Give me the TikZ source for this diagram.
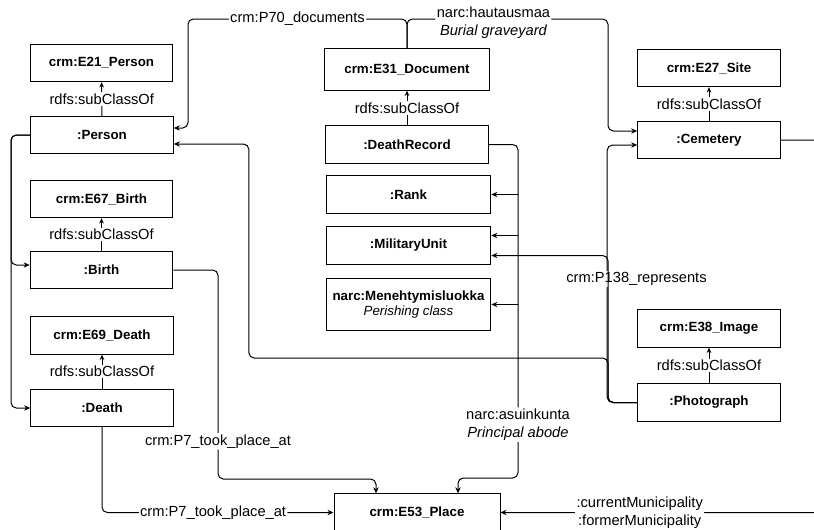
\documentclass[tikz,border=0pt]{standalone}
\usepackage{fontspec}
\setmainfont{Liberation Sans}
\usepackage{tikz}
\usetikzlibrary{arrows.meta}
\usetikzlibrary{positioning}
\usetikzlibrary{calc}

\tikzstyle{cls} = [draw, line width=0.75pt, minimum width=107pt, minimum height=28pt, inner sep=2pt, align=center, font=\bfseries\fontsize{10}{12}\selectfont]
\tikzstyle{widecls} = [cls, minimum width=123.5pt]
\tikzstyle{link} = [line width=0.75pt, rounded corners=4pt, -{Stealth[length=4.5pt,width=4pt]}]
\tikzstyle{subcls} = [line width=0.75pt, -{Stealth[length=4pt,width=3.5pt]}]
\tikzstyle{lbl} = [fill=white, inner sep=1pt, align=center, font=\fontsize{11}{13.5}\selectfont]

\begin{document}
\begin{tikzpicture}[x=0.75pt, y=-0.75pt]
    \useasboundingbox (0,0) rectangle (814,529);
    \clip (0,0) rectangle (814,529);

    % left column
    \node[cls] (e21) at (101.5,63) {crm:E21\_Person};
    \node[cls] (person) at (102,135) {:Person};
    \node[cls] (e67) at (101.5,199) {crm:E67\_Birth};
    \node[cls] (birth) at (101.5,270) {:Birth};
    \node[cls] (e69) at (102,335.5) {crm:E69\_Death};
    \node[cls] (death) at (102,408) {:Death};

    % middle column
    \node[widecls, minimum height=31pt] (e31) at (407,69.5) {crm:E31\_Document};
    \node[widecls, minimum width=122pt] (record) at (407,144.5) {:DeathRecord};
    \node[widecls] (rank) at (408.5,194.5) {:Rank};
    \node[widecls] (unit) at (408.5,245.5) {:MilitaryUnit};
    \node[widecls, minimum height=39pt] (perish) at (408.5,304.5) {narc:Menehtymisluokka\\[-1pt]\mdseries\itshape Perishing class};
    \node[widecls, minimum width=124.5pt] (place) at (417,512.5) {crm:E53\_Place};

    % right column
    \node[cls] (e27) at (709,68) {crm:E27\_Site};
    \node[cls] (cemetery) at (709,140) {:Cemetery};
    \node[cls] (e38) at (709,328.5) {crm:E38\_Image};
    \node[cls] (photo) at (709,402.5) {:Photograph};

    \coordinate (top) at (0,19);
    \coordinate (trunk) at (518,478);

    % subclasses
    \draw[subcls] (person) -- node[lbl]{rdfs:subClassOf} (e21);
    \draw[subcls] (birth) -- node[lbl]{rdfs:subClassOf} (e67);
    \draw[subcls] (death) -- node[lbl]{rdfs:subClassOf} (e69);
    \draw[subcls] (record) -- node[lbl]{rdfs:subClassOf} (e31);
    \draw[subcls] (cemetery) -- node[lbl]{rdfs:subClassOf} (e27);
    \draw[subcls] (photo) -- node[lbl]{rdfs:subClassOf} (e38);

    % document links
    \draw[link] (e31.north) -- (e31.north |- top) -- node[lbl]{crm:P70\_documents} (188,19) |- ($(person.east)+(0,-7)$);
    \draw[link] (e31.north) -- (e31.north |- top) -- node[lbl, pos=0.43, yshift=-2.5pt]{narc:hautausmaa\\\itshape Burial graveyard} (608,19) |- ($(cemetery.west)+(0,-9)$);

    % person events
    \draw[link] (person.west) -| (11,265) -- ($(birth.west)+(0,-5)$);
    \draw[link] (person.west) -| (11,408) -- (death.west);
    \draw[link] (birth.east) -| node[lbl, pos=0.91]{crm:P7\_took\_place\_at} (218,479) -| ($(place.north)+(-41,0)$);
    \draw[link] (death.south) |- node[lbl, pos=0.74]{crm:P7\_took\_place\_at} (place.west);

    % death record
    \draw[link] (record.east) -| node[lbl, pos=0.92]{narc:asuinkunta\\\itshape Principal abode} (trunk) -| ($(place.north)+(41,0)$);
    \draw[link] (rank.east -| trunk) -- (rank.east);
    \draw[link] ($(unit.east -| trunk)+(0,-10)$) -- ($(unit.east)+(0,-10)$);
    \draw[link] (perish.east -| trunk) -- (perish.east);

    % photograph
    \draw[link] (photo.west) -| node[lbl, pos=0.74, xshift=22pt]{crm:P138\_represents} ($(cemetery.west)+(-30,5)$) -- ($(cemetery.west)+(0,5)$);
    \draw[link] (photo.west) -| (608,255.5) -- ($(unit.east)+(0,10)$);
    \draw[link] (photo.west) -| (608,358) -| ($(person.east)+(75,9)$) -- ($(person.east)+(0,9)$);

    % municipality
    \draw[link] (cemetery.east) -| (840,512.5) -- node[lbl, pos=0.59]{:currentMunicipality\\:formerMunicipality} (place.east);
\end{tikzpicture}
\end{document}
